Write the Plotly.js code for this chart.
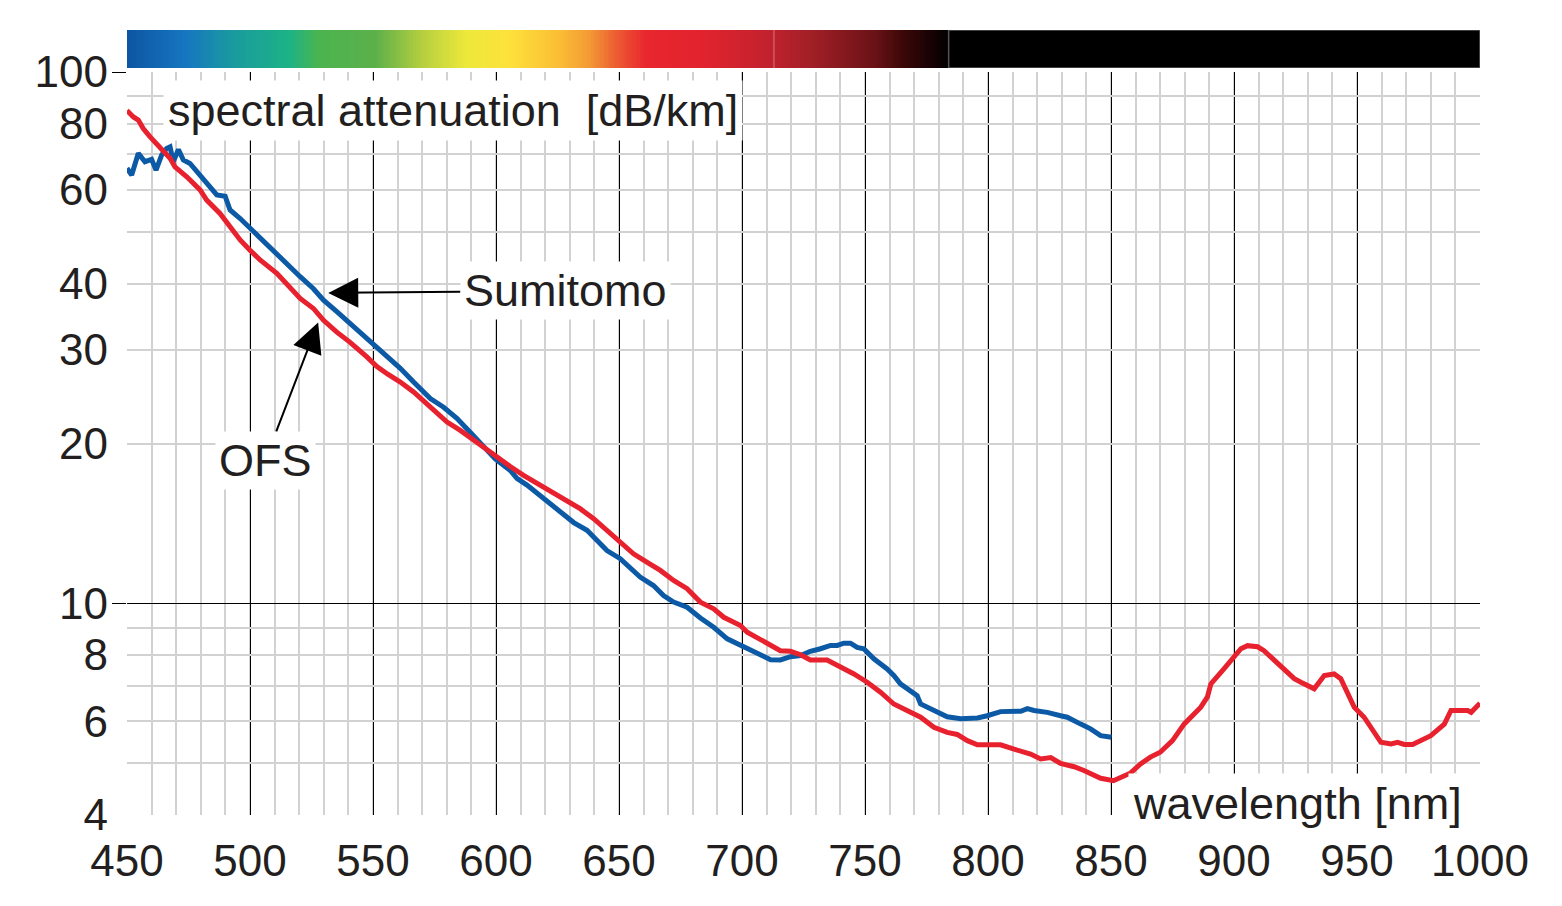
<!DOCTYPE html>
<html>
<head>
<meta charset="utf-8">
<script src="https://cdn.plot.ly/plotly-3.0.1.min.js"></script>
<style>html,body{margin:0;padding:0;background:#fff;}#chart{width:1562px;height:906px;}</style>
</head>
<body>
<div id="chart"></div>
<script>
// ---- data ----
const ofsNm = [450, 452.6, 454.6, 456.6, 459.4, 463.4, 467.5, 469.5, 474.3, 479.7, 482.4, 487.8, 491.9, 496, 500, 504.1, 510.9, 515, 520.4, 525.8, 529.9, 535.3, 540.7, 547.5, 551.6, 556, 561.1, 566.5, 573.3, 580.1, 585.5, 590.9, 595, 599.7, 605.8, 611.2, 618, 623.4, 628.8, 634.2, 639.7, 645.1, 650.5, 655.9, 661.3, 666.8, 672.2, 677.7, 683.1, 688.5, 692.6, 699.4, 702.1, 706.2, 710.2, 715.6, 719.7, 723.8, 727.8, 734.6, 740, 745.5, 750.9, 756.3, 761.7, 767.2, 772.6, 778, 783.4, 787.5, 791.6, 795.7, 805.1, 810.6, 817.3, 821.4, 825.5, 829.5, 835, 839, 845.8, 851, 854, 858, 862, 866, 870, 875, 879.7, 886.5, 889.2, 890.6, 896, 900, 902.8, 905.5, 909.6, 912.2, 915, 919, 924.5, 927.2, 932.6, 936.7, 940.7, 943.4, 948.9, 952.9, 959.7, 963.8, 966.5, 969.2, 972.6, 980, 985.5, 988.2, 992.3, 995, 996.4, 1000];
const ofsDb = [84.6, 82.3, 81.2, 78.3, 75.5, 72.3, 68.8, 66.3, 63.5, 60.0, 57.4, 54.2, 51.1, 48.3, 46.2, 44.3, 41.8, 40.0, 37.5, 35.9, 34.1, 32.4, 31.0, 29.1, 27.9, 27.0, 26.1, 25.0, 23.4, 21.95, 21.17, 20.28, 19.7, 18.9, 18.1, 17.42, 16.68, 16.09, 15.63, 15.08, 14.44, 13.73, 13.05, 12.4, 11.96, 11.54, 11.05, 10.66, 10.06, 9.77, 9.42, 9.09, 8.83, 8.64, 8.42, 8.15, 8.13, 8.01, 7.83, 7.83, 7.61, 7.37, 7.11, 6.81, 6.47, 6.27, 6.11, 5.85, 5.72, 5.67, 5.52, 5.42, 5.42, 5.32, 5.21, 5.10, 5.13, 5.00, 4.93, 4.85, 4.69, 4.64, 4.72, 4.80, 4.99, 5.14, 5.25, 5.52, 5.93, 6.38, 6.67, 7.06, 7.54, 7.92, 8.22, 8.33, 8.29, 8.15, 7.92, 7.59, 7.22, 7.11, 6.91, 7.32, 7.37, 7.22, 6.38, 6.11, 5.48, 5.44, 5.48, 5.43, 5.43, 5.64, 5.93, 6.29, 6.30, 6.29, 6.24, 6.49];

const sumitomoNm = [450, 451.9, 454.6, 457.3, 460, 461.8, 464.1, 466.1, 467.5, 468.8, 470.9, 472.9, 475.6, 479.7, 483.8, 486.5, 489.9, 491.9, 496, 500, 504.1, 509.5, 515, 520.4, 525.8, 529.9, 535.3, 540.7, 547.5, 551.6, 556, 561.1, 566.5, 573.3, 578.7, 584.1, 589.5, 595, 599.7, 605.8, 608.5, 612.6, 618, 620.7, 626.1, 631.6, 637, 642.4, 645.1, 650.5, 655.9, 658.6, 664, 668.1, 672.2, 677.7, 683.1, 688.5, 694, 700.8, 706.2, 711.6, 715.6, 719.7, 723.8, 727.8, 731.9, 736, 738.7, 741.4, 744.1, 746.8, 749.5, 753.6, 759, 761.7, 764.4, 768.5, 771.2, 772.6, 778, 783.4, 788.9, 795.7, 799.7, 805.1, 813.3, 816, 818.7, 824.1, 829.5, 832.2, 837.7, 841.7, 845.8, 850.2];
const sumitomoDb = [65.9, 64.0, 70.3, 67.8, 68.5, 65.4, 69.8, 71.8, 72.3, 67.8, 71.5, 68.3, 67.3, 64.0, 60.8, 58.7, 58.4, 55.0, 53.0, 50.8, 48.6, 45.9, 43.6, 41.2, 39.1, 37.2, 35.4, 33.6, 31.5, 30.4, 29.0, 27.7, 26.1, 24.3, 23.4, 22.3, 21.0, 19.7, 18.7, 17.8, 17.2, 16.7, 15.97, 15.6, 14.96, 14.2, 13.73, 12.95, 12.58, 12.14, 11.54, 11.21, 10.81, 10.35, 10.06, 9.84, 9.39, 9.02, 8.58, 8.30, 8.06, 7.84, 7.83, 7.94, 7.98, 8.13, 8.22, 8.34, 8.34, 8.42, 8.42, 8.27, 8.22, 7.87, 7.53, 7.32, 7.06, 6.86, 6.71, 6.47, 6.29, 6.12, 6.07, 6.09, 6.15, 6.26, 6.27, 6.34, 6.29, 6.24, 6.15, 6.11, 5.93, 5.81, 5.64, 5.60];

const xTickVals = [450, 500, 550, 600, 650, 700, 750, 800, 850, 900, 950, 1000];
const yTickVals = [4, 6, 8, 10, 20, 30, 40, 60, 80, 100];
const yMajorGrid = [10, 100];
const yMinorGrid = [4, 5, 6, 7, 8, 9, 20, 30, 40, 50, 60, 70, 80, 90];

// visible-spectrum colour bar stops (wavelength -> colour)
const spectrumNm = [450, 474, 493, 516, 528, 551, 570, 588, 605, 626, 638, 649, 661, 684, 712, 731, 754, 766, 778, 784, 1000];
const spectrumColors = ['#0d55a3', '#1676c0', '#1a9a9e', '#1cb386', '#4bb44f', '#5cb04a', '#b5cf3f', '#ede83a', '#fde23a', '#fbbd35', '#f39a35', '#ec5c32', '#e8262e', '#e2232e', '#c0222e', '#9c1e25', '#6a1216', '#3a0707', '#150204', '#000000', '#000000'];

// ---- figure ----
const FONT = 'Liberation Sans, Arial, Helvetica, sans-serif';
const TXT = '#231f20';

const barX = [];
for (let w = spectrumNm[0]; w <= spectrumNm[spectrumNm.length - 1]; w++) barX.push(w);
const colorscale = spectrumNm.map((w, i) => [(w - 450) / 550, spectrumColors[i]]);

const traces = [
  {type: 'heatmap', x: barX, y: [0], z: [barX], zmin: 450, zmax: 1000,
   colorscale: colorscale, showscale: false, hoverinfo: 'skip', xaxis: 'x', yaxis: 'y2'},
  {type: 'scatter', mode: 'lines', name: 'Sumitomo', x: sumitomoNm, y: sumitomoDb,
   line: {color: '#0c5aa6', width: 5}, xaxis: 'x', yaxis: 'y'},
  {type: 'scatter', mode: 'lines', name: 'OFS', x: ofsNm, y: ofsDb,
   line: {color: '#e8212e', width: 5}, xaxis: 'x', yaxis: 'y'},
  {type: 'scatter', mode: 'lines', x: [], y: [], xaxis: 'x', yaxis: 'y3', hoverinfo: 'skip', showlegend: false},
  {type: 'scatter', mode: 'lines', x: [], y: [], xaxis: 'x', yaxis: 'y4', hoverinfo: 'skip', showlegend: false}
];

const yRange = [Math.log10(4), 2];
const mainDomain = [0, 743 / 785];

const layout = {
  width: 1562, height: 906,
  margin: {l: 127, r: 82, t: 30, b: 91, pad: 0},
  paper_bgcolor: '#ffffff', plot_bgcolor: '#ffffff',
  showlegend: false,
  font: {family: FONT, color: TXT, size: 44},
  xaxis: {
    range: [450, 1000], tickmode: 'array', tickvals: xTickVals,
    showgrid: true, gridcolor: '#000000', gridwidth: 1,
    minor: {tickmode: 'linear', tick0: 450, dtick: 10, showgrid: true, gridcolor: '#d2d2d2', gridwidth: 2},
    ticks: '', zeroline: false, showline: false,
    tickfont: {family: FONT, size: 44, color: TXT}, ticklabelstandoff: 16,
    fixedrange: true
  },
  yaxis: {
    type: 'log', range: yRange, domain: mainDomain,
    tickmode: 'array', tickvals: yMinorGrid, showticklabels: false,
    showgrid: true, gridcolor: '#d2d2d2', gridwidth: 2,
    ticks: '', zeroline: false, showline: false, fixedrange: true
  },
  yaxis3: {
    type: 'log', range: yRange, overlaying: 'y', side: 'left',
    tickmode: 'array', tickvals: yMajorGrid, showticklabels: false,
    showgrid: true, gridcolor: '#000000', gridwidth: 1,
    ticks: 'outside', ticklen: 14, tickcolor: '#000000', tickwidth: 1,
    zeroline: false, showline: false, fixedrange: true
  },
  yaxis4: {
    type: 'log', range: yRange, overlaying: 'y', side: 'left',
    tickmode: 'array', tickvals: yTickVals, ticktext: yTickVals.map(String),
    showgrid: false, ticks: '', zeroline: false, showline: false,
    tickfont: {family: FONT, size: 44, color: TXT}, ticklabelstandoff: 18,
    fixedrange: true
  },
  yaxis2: {
    domain: [(815 - 68) / 785, 1], range: [-0.5, 0.5],
    showticklabels: false, showgrid: false, zeroline: false, ticks: '', fixedrange: true
  },
  shapes: [
    {type: 'rect', xref: 'x', yref: 'y2', x0: 784, x1: 1000, y0: -0.5, y1: 0.5,
     line: {color: '#555555', width: 1.5}, fillcolor: 'rgba(0,0,0,0)'},
    {type: 'line', xref: 'x', yref: 'y2', x0: 713, x1: 713, y0: -0.5, y1: 0.5,
     line: {color: '#d8777a', width: 1}}
  ],
  annotations: [
    {xref: 'paper', yref: 'paper', x: (163 - 127) / 1353, y: (815 - 111) / 785,
     xanchor: 'left', yanchor: 'middle', showarrow: false,
     text: 'spectral attenuation\u00a0 [dB/km]', bgcolor: '#ffffff', borderpad: 4,
     font: {family: FONT, size: 45, color: TXT}},
    {xref: 'paper', yref: 'paper', x: (1128 - 127) / 1353, y: (815 - 803) / 785,
     xanchor: 'left', yanchor: 'middle', showarrow: false,
     text: 'wavelength [nm]', bgcolor: '#ffffff', borderpad: 4,
     font: {family: FONT, size: 45, color: TXT}},
    {xref: 'x', yref: 'y', x: 531.8, y: Math.log10(38.4), ax: 237, ay: -2,
     text: 'Sumitomo', showarrow: true, arrowhead: 2, arrowsize: 3, arrowwidth: 2,
     arrowcolor: '#000000', standoff: 0, bgcolor: '#ffffff', borderpad: 3,
     font: {family: FONT, size: 45, color: TXT}},
    {xref: 'x', yref: 'y', x: 527.7, y: Math.log10(33.8), ax: -53, ay: 138,
     text: 'OFS', showarrow: true, arrowhead: 2, arrowsize: 3, arrowwidth: 2,
     arrowcolor: '#000000', standoff: 0, bgcolor: '#ffffff', borderpad: 3,
     font: {family: FONT, size: 45, color: TXT}}
  ]
};

Plotly.newPlot('chart', traces, layout, {staticPlot: true, displayModeBar: false});
</script>
</body>
</html>
